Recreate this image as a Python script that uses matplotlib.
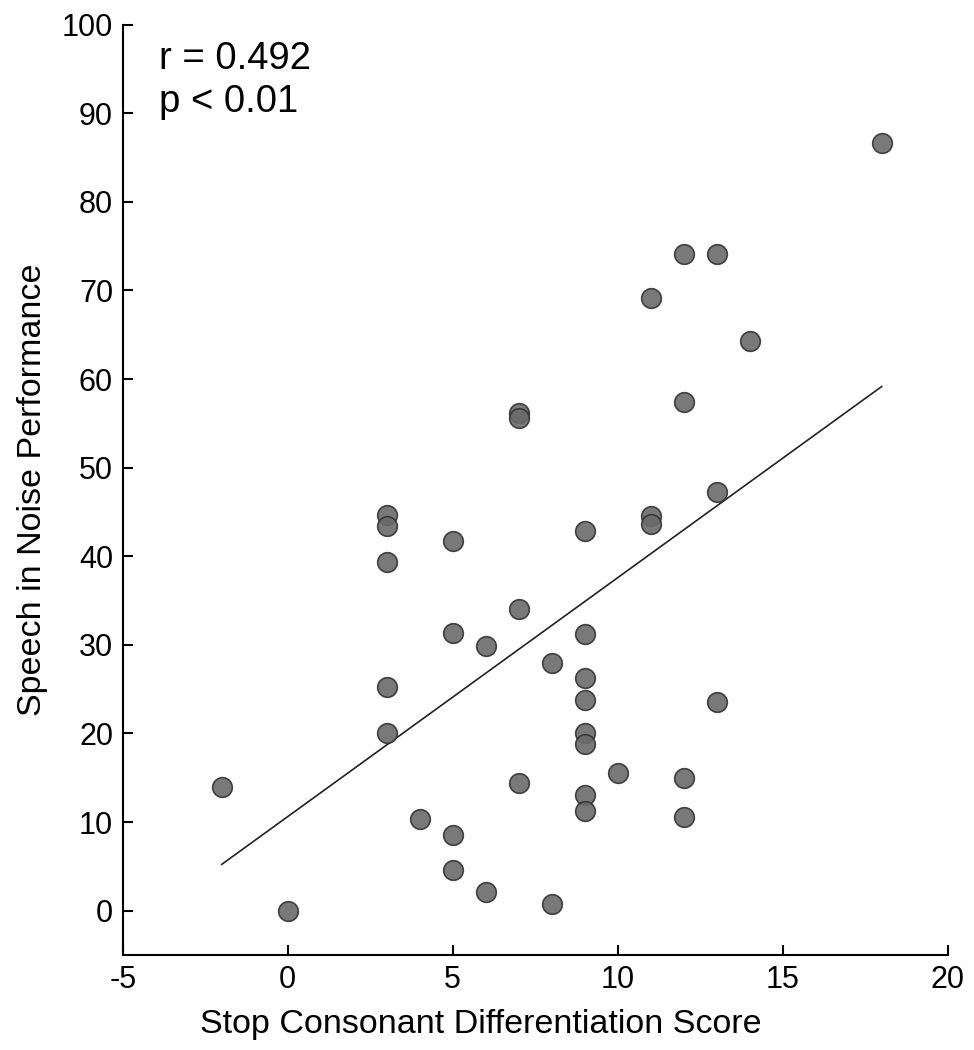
import matplotlib.pyplot as plt
import numpy as np

plt.rcParams['font.family'] = ['Liberation Sans', 'DejaVu Sans']
plt.rcParams['axes.unicode_minus'] = False

# stop consonant differentiation score
score = [-2, 0, 3, 3, 3, 3, 3, 4, 5, 5, 5, 5, 6, 6, 7, 7, 7, 7, 8, 8,
         9, 9, 9, 9, 9, 9, 9, 9, 10, 11, 11, 11, 12, 12, 12, 12, 13, 13, 13, 14, 18]
# speech in noise performance
sin = [14.0, 0.0, 44.7, 43.4, 39.4, 25.3, 20.0, 10.4, 41.7, 31.3, 8.5, 4.6, 29.9, 2.1,
       56.2, 55.6, 34.1, 14.4, 27.9, 0.8,
       42.8, 31.2, 26.3, 23.8, 20.1, 18.8, 13.0, 11.2, 15.5, 69.2, 44.5, 43.6,
       74.1, 57.4, 15.0, 10.6, 74.1, 47.2, 23.6, 64.3, 86.6]

x = np.array(score, dtype=float)
y = np.array(sin)
slope, icept = np.polyfit(x, y, 1)
xl = np.array([x.min(), x.max()])

fig = plt.figure(figsize=(9.74, 10.5), dpi=100)
ax = fig.add_axes([0.126, 0.0905, 0.847, 0.886])

ax.scatter(x, y, s=200, facecolor='#6a6a6a', edgecolor='#333333', linewidth=1.2, alpha=0.9, zorder=3)
ax.plot(xl, slope * xl + icept, color='#222222', lw=1.2, zorder=2)

ax.set_xlim(-5, 20)
ax.set_ylim(-5, 100)
ax.set_xticks([-5, 0, 5, 10, 15, 20])
ax.set_yticks(range(0, 101, 10))
ax.spines['top'].set_visible(False)
ax.spines['right'].set_visible(False)
ax.spines['left'].set_linewidth(1.5)
ax.spines['bottom'].set_linewidth(1.5)
ax.tick_params(direction='in', length=7, width=1.5, labelsize=22, pad=7)

ax.set_xlabel('Stop Consonant Differentiation Score', fontsize=24.5, labelpad=10, x=0.434)
ax.set_ylabel('Speech in Noise Performance', fontsize=24.5, labelpad=10)
ax.text(-3.9, 98.2, 'r = 0.492\np < 0.01', fontsize=27.5, va='top', ha='left', linespacing=1.25)

fig.savefig('out.png', dpi=100)
